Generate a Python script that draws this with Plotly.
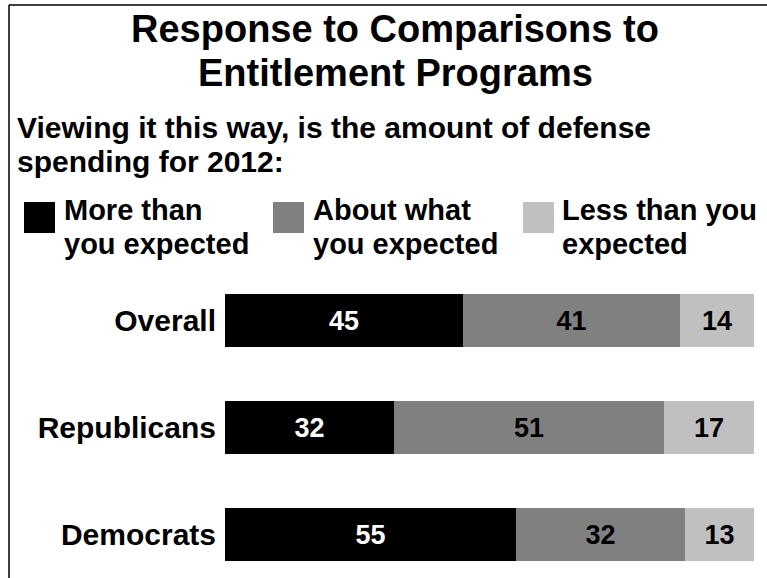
import plotly.graph_objects as go

categories = ["Overall", "Republicans", "Democrats"]
series_names = ["More than\nyou expected", "About what\nyou expected", "Less than you\nexpected"]
more_than = [45, 32, 55]
about_what = [41, 51, 32]
less_than = [14, 17, 13]
colors = ["#000000", "#808080", "#C0C0C0"]
text_colors = ["#FFFFFF", "#000000", "#000000"]

title_lines = ["Response to Comparisons to", "Entitlement Programs"]
subtitle_lines = ["Viewing it this way, is the amount of defense", "spending for 2012:"]

W, H = 767, 578
L, R, T, B = 225, 13, 267, 0
PW, PH = W - L - R, H - T - B
FONT = "Liberation Sans, Arial, sans-serif"


def px(x):
    return (x - L) / PW


def py(y):
    return (H - B - y) / PH


fig = go.Figure()
for vals, name, col, tcol in zip([more_than, about_what, less_than], series_names, colors, text_colors):
    fig.add_trace(go.Bar(
        y=categories, x=vals, orientation="h", name=name.replace("\n", " "),
        marker=dict(color=col, line=dict(width=0)),
        width=0.5,
        text=[str(v) for v in vals], textposition="inside", insidetextanchor="middle",
        textfont=dict(family=FONT, size=27, color=tcol, weight="bold"),
        showlegend=False, cliponaxis=False,
    ))

annotations = []
# title
for i, line in enumerate(title_lines):
    annotations.append(dict(text="<b>%s</b>" % line, x=px(395), y=py(29 + 44 * i), xref="paper", yref="paper",
                            xanchor="center", yanchor="middle", showarrow=False,
                            font=dict(family=FONT, size=38, color="#000")))
for i, line in enumerate(subtitle_lines):
    annotations.append(dict(text="<b>%s</b>" % line, x=px(15), y=py(127 + 34 * i), xref="paper", yref="paper",
                            xanchor="left", yanchor="middle", showarrow=False,
                            font=dict(family=FONT, size=30, color="#000")))

leg_sq_x = [24, 273, 523]
leg_txt_x = [62, 311, 560]
shapes = []
for sx, tx, name, col in zip(leg_sq_x, leg_txt_x, series_names, colors):
    shapes.append(dict(type="rect", xref="paper", yref="paper", x0=px(sx), x1=px(sx + 31),
                       y0=py(233), y1=py(202), fillcolor=col, line=dict(width=0)))
    for j, line in enumerate(name.split("\n")):
        annotations.append(dict(text="<b>%s</b>" % line, x=px(tx), y=py(210 + 34 * j), xref="paper", yref="paper",
                                xanchor="left", yanchor="middle", showarrow=False,
                                font=dict(family=FONT, size=29, color="#000")))

# border (top and left edges of the frame)
shapes.append(dict(type="line", xref="paper", yref="paper", x0=px(9), x1=px(767), y0=py(5), y1=py(5),
                   line=dict(color="#000", width=1.5)))
shapes.append(dict(type="line", xref="paper", yref="paper", x0=px(9), x1=px(9), y0=py(5), y1=py(578),
                   line=dict(color="#000", width=1.5)))

fig.update_layout(
    barmode="stack",
    width=W, height=H,
    margin=dict(l=L, r=R, t=T, b=B, pad=0),
    paper_bgcolor="white", plot_bgcolor="white",
    xaxis=dict(range=[0, 100], visible=False, fixedrange=True),
    yaxis=dict(range=[2.407, -0.5], showgrid=False, zeroline=False, showline=False, ticks="",
               tickfont=dict(family=FONT, size=30, color="#000", weight="bold"), ticklabelstandoff=8),
    annotations=annotations,
    shapes=shapes,
    bargap=0,
)
fig.write_html("out.html", config={"displayModeBar": False},
               post_script="document.body.style.margin='0';document.body.style.overflow='hidden';")
